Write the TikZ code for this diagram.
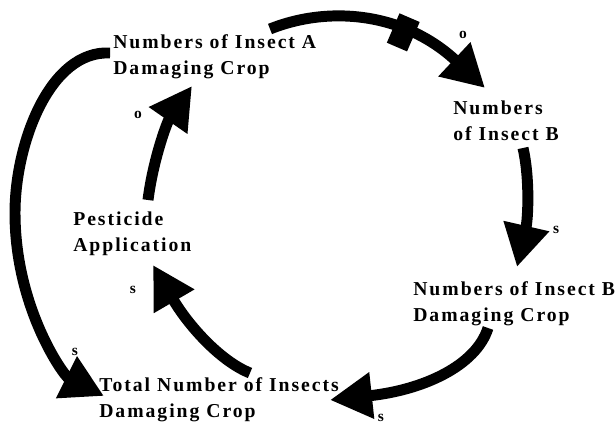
\documentclass[tikz,border=0pt]{standalone}
\usepackage{fontspec}
\setmainfont{Liberation Serif}[LetterSpace=10]
\usetikzlibrary{arrows.meta}

\begin{document}
\begin{tikzpicture}[x=0.025cm, y=0.025cm,
			every node/.style={inner sep=0pt},
			factor/.style={anchor=base west, align=left,
				font=\bfseries\fontsize{14}{19}\selectfont},
			sign/.style={font=\bfseries\fontsize{11}{11}\selectfont},
			link/.style={line width=7.8pt,
				-{Triangle[length=1.05cm,width=1.1cm]}},
			delay/.style={fill, sloped, minimum width=0.55cm, minimum height=0.8cm}]
			\useasboundingbox (0,0) rectangle (615,425);
			\node [factor] (insectA) at (113,350) {Numbers of Insect A\\Damaging Crop};
			\node [factor] (insectB) at (453,284) {Numbers\\of Insect B};
			\node [factor] (damageB) at (413,103) {Numbers of Insect B\\Damaging Crop};
			\node [factor] (total) at (99,7) {Total Number of Insects\\Damaging Crop};
			\node [factor] (pest) at (73,173) {Pesticide\\Application};
			\node [sign] (signPA) at (138,310) {o};
			\node [sign] (signAB) at (463,390) {o};
			\node [sign] (signBB) at (556,195) {s};
			\node [sign] (signBT) at (381,7) {s};
			\node [sign] (signTP) at (133,135) {s};
			\node [sign] (signAT) at (75,73) {s};
			\draw [link] ([shift={(75,52)}]pest.base west)
				.. controls +(5,40) and +(-25,-36) .. ([shift={(79,-11)}]insectA.base west);
			\draw [link] ([shift={(157,46)}]insectA.base west)
				.. controls +(60,24) and +(-80,75) .. ([shift={(32,53)}]insectB.base west)
				node [delay, pos=0.65] {};
			\draw [link] ([shift={(70,-7)}]insectB.base west)
				.. controls +(7,-31) and +(11,48) .. ([shift={(104,55)}]damageB.base west);
			\draw [link] ([shift={(75,-6)}]damageB.base west)
				.. controls +(-12,-38) and +(93,10) .. ([shift={(231,18)}]total.base west);
			\draw [link] ([shift={(151,45)}]total.base west)
				.. controls +(-30,12) and +(35,-60) .. ([shift={(80,-13)}]pest.base west);
			\draw [link] ([shift={(-3,22)}]insectA.base west)
				.. controls +(-60,3) and +(0,70) .. ++(-95,-160)
				.. controls +(0,-95) and +(-40,20) .. ([shift={(5,22)}]total.base west);
		\end{tikzpicture}
\end{document}
